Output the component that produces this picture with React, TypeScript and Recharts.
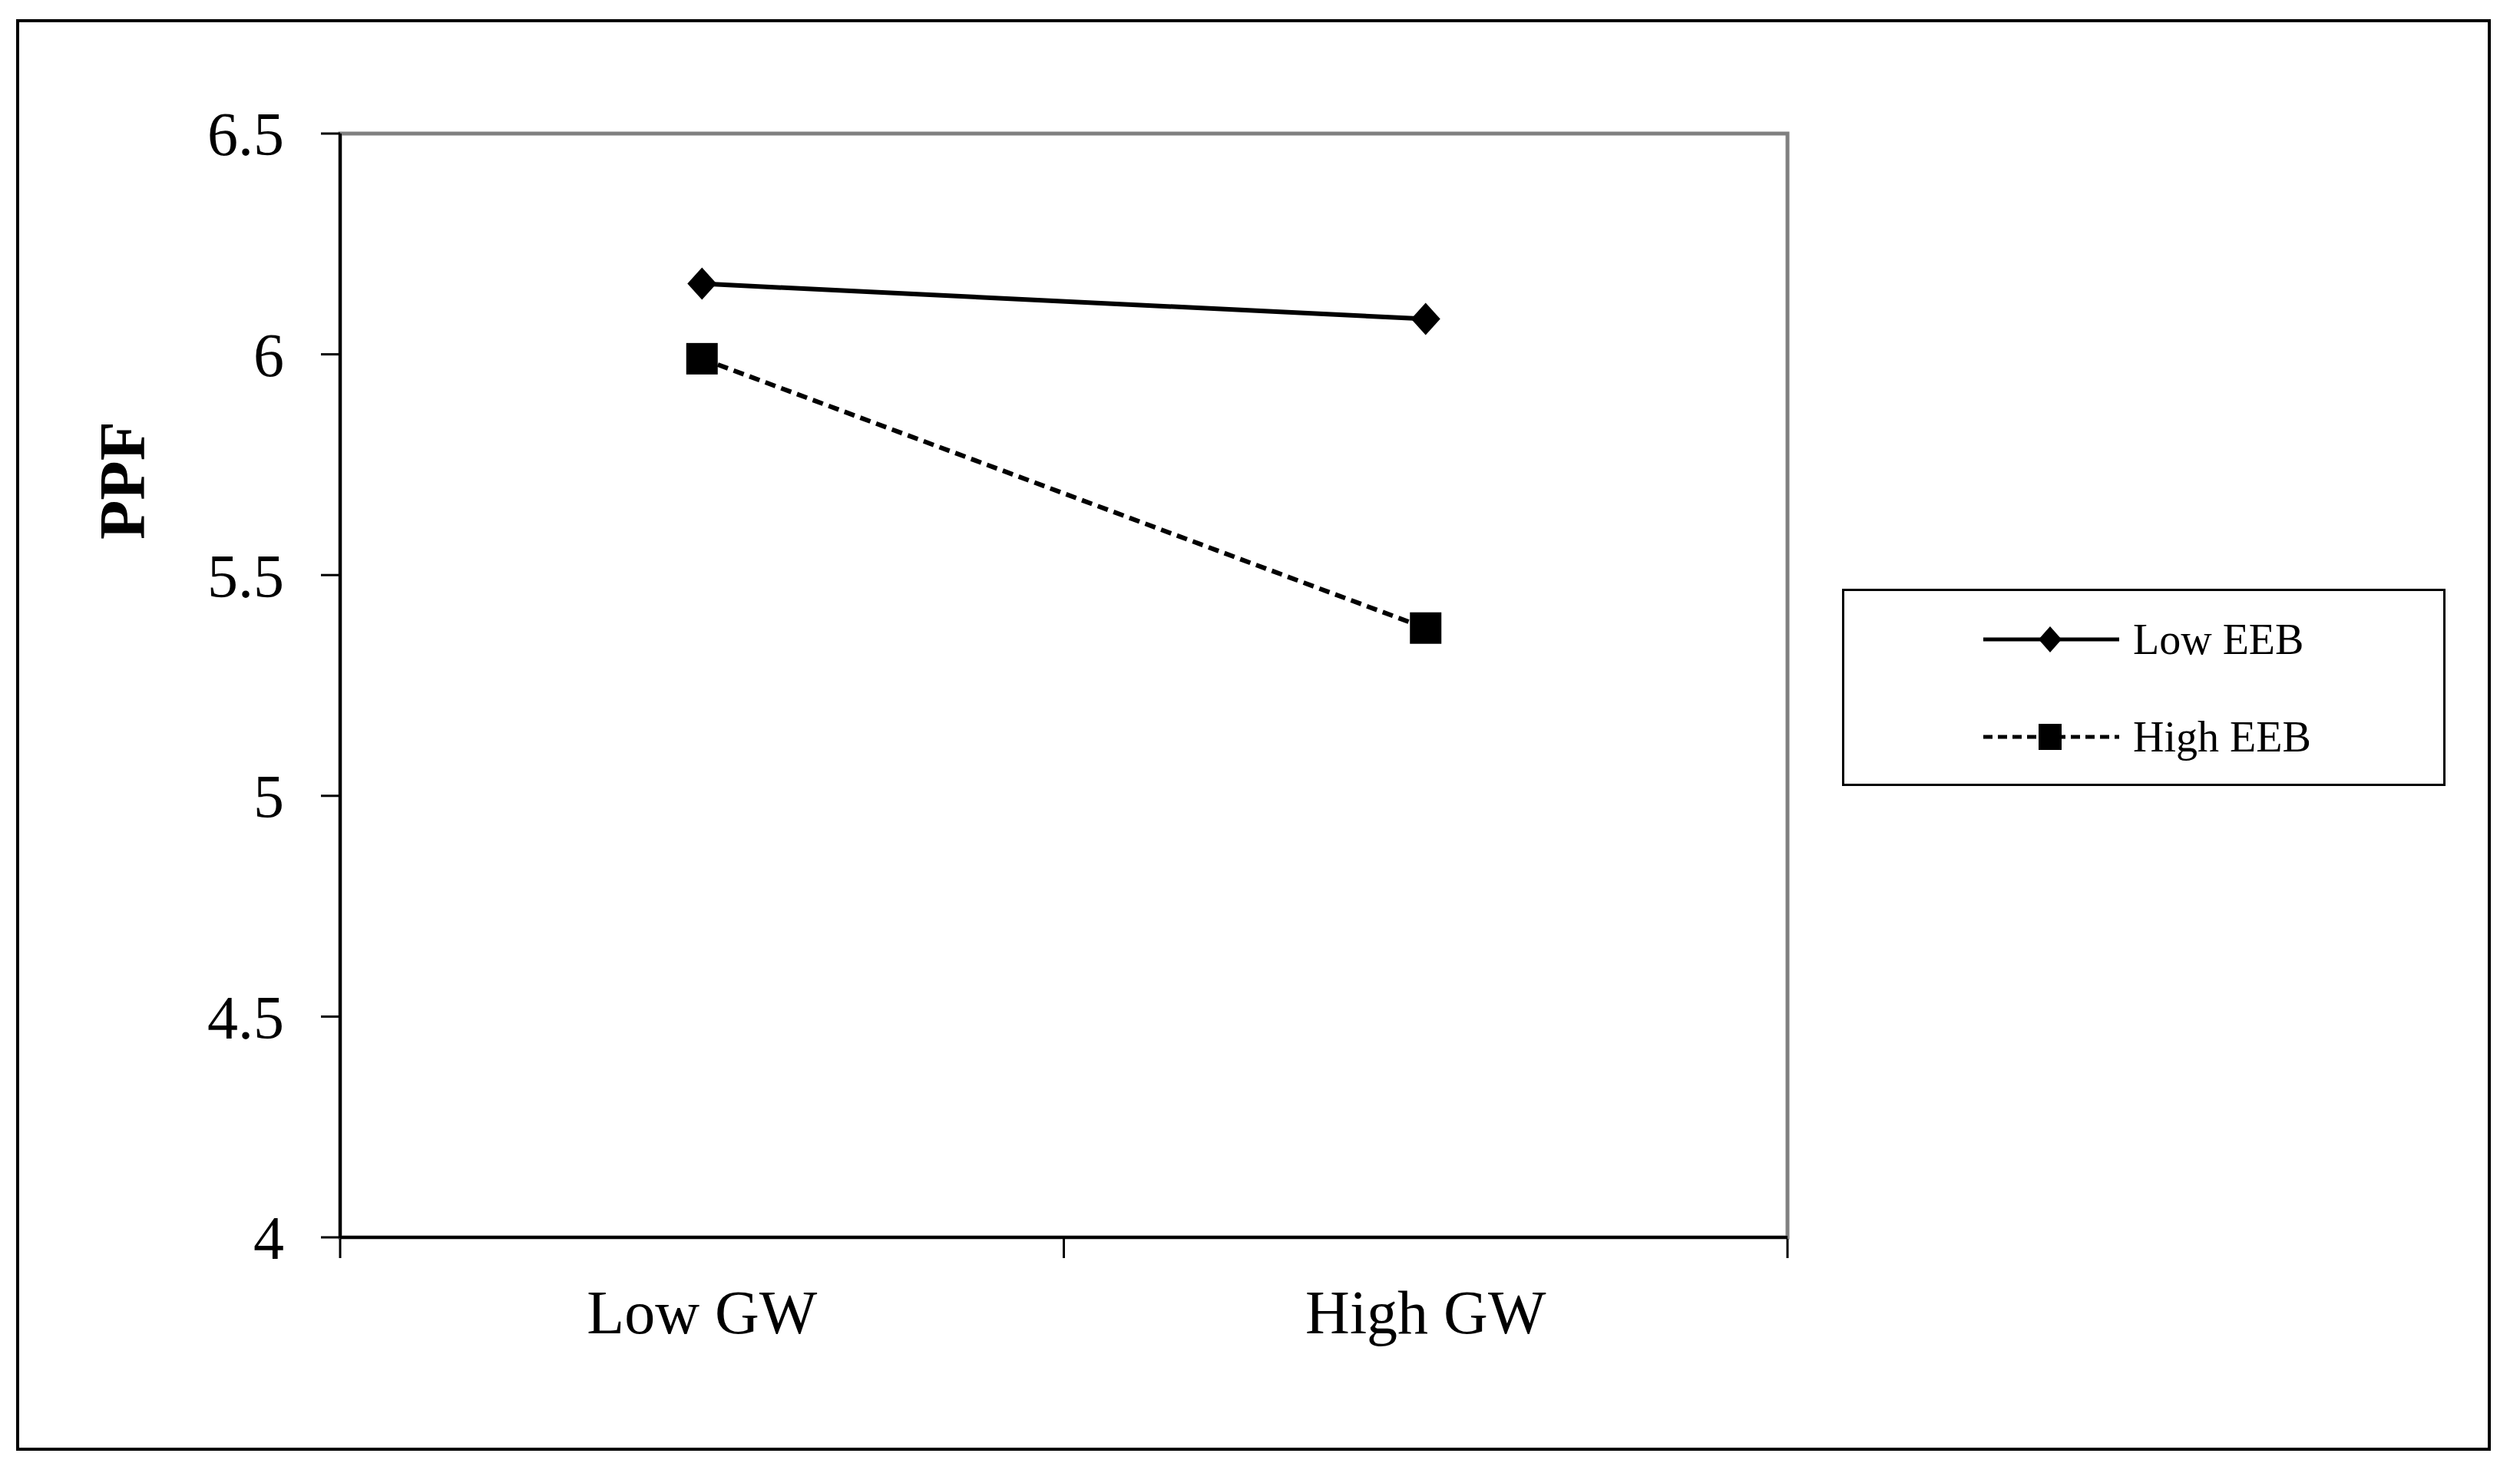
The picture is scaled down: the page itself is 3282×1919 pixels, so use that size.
import { LineChart, Line, XAxis, YAxis, ReferenceArea } from "recharts";

const categories = ["Low GW", "High GW"];
const lowEEB = [6.16, 6.08];
const highEEB = [5.99, 5.38];
const yTicks = [4, 4.5, 5, 5.5, 6, 6.5];
const seriesNames = ["Low EEB", "High EEB"];

const FONT = "'Liberation Serif', 'Times New Roman', serif";

// points sit in the middle of each category band, tick marks on the band edges
const data = categories.map((gw, i) => ({
  gw,
  pos: i + 0.5,
  low: lowEEB[i],
  high: highEEB[i],
}));
const xTicks = [
  ...categories.flatMap((_, i) => [i, i + 0.5]),
  categories.length,
];

function Diamond(props: any) {
  const { cx, cy, index } = props;
  if (cx == null || cy == null) return null;
  return (
    <polygon
      key={`d-${index}`}
      points={`${cx},${cy - 21} ${cx + 19},${cy} ${cx},${cy + 21} ${cx - 19},${cy}`}
      fill="#000"
    />
  );
}

function Square(props: any) {
  const { cx, cy, index } = props;
  if (cx == null || cy == null) return null;
  return <rect key={`s-${index}`} x={cx - 20.5} y={cy - 20.5} width={41} height={41} fill="#000" />;
}

function XTick({ x, y, payload }: any) {
  const v = payload.value;
  if (Number.isInteger(v)) {
    return <line x1={x} y1={y} x2={x} y2={y + 25} stroke="#000" strokeWidth={3} />;
  }
  return (
    <text x={x} y={y + 123} textAnchor="middle" fontSize={80} fontFamily={FONT} fill="#000">
      {categories[Math.floor(v)]}
    </text>
  );
}

function PpfLabel({ viewBox }: any) {
  const cx = viewBox.x - 134;
  const cy = viewBox.y + 452;
  return (
    <text
      x={cx}
      y={cy}
      textAnchor="middle"
      dominantBaseline="central"
      fontSize={84}
      fontWeight="bold"
      fontFamily={FONT}
      fill="#000"
      transform={`rotate(-90, ${cx}, ${cy})`}
    >
      PPF
    </text>
  );
}

function LegendBox() {
  const rows = [
    { name: seriesNames[0], dash: undefined, marker: "diamond" },
    { name: seriesNames[1], dash: "12 7", marker: "square" },
  ];
  return (
    <div
      style={{
        position: "absolute",
        left: 2399,
        top: 767,
        width: 786,
        height: 257,
        border: "3px solid #000",
        boxSizing: "border-box",
        background: "#fff",
      }}
    >
      {rows.map((r, i) => (
        <div
          key={r.name}
          style={{
            position: "absolute",
            left: 181,
            top: 33 + i * 127,
            height: 60,
            display: "flex",
            alignItems: "center",
          }}
        >
          <svg width={177} height={40} style={{ display: "block" }}>
            <line x1={0} y1={20} x2={177} y2={20} stroke="#000" strokeWidth={5} strokeDasharray={r.dash} />
            {r.marker === "diamond" ? (
              <polygon points="87,3 102,20 87,37 72,20" fill="#000" />
            ) : (
              <rect x={72} y={3} width={30} height={34} fill="#000" />
            )}
          </svg>
          <span
            style={{
              marginLeft: 18,
              fontFamily: FONT,
              fontSize: 56,
              color: "#000",
              whiteSpace: "nowrap",
              lineHeight: 1,
            }}
          >
            {r.name}
          </span>
        </div>
      ))}
    </div>
  );
}

export default function App() {
  return (
    <div
      style={{
        position: "absolute",
        left: 0,
        top: 0,
        width: 3282,
        height: 1919,
        background: "#fff",
        overflow: "hidden",
      }}
    >
      <div
        style={{
          position: "absolute",
          left: 21,
          top: 25,
          width: 3223,
          height: 1865,
          border: "4px solid #000",
          boxSizing: "border-box",
        }}
      />
      <div style={{ position: "absolute", left: 0, top: 0 }}>
        <LineChart
          width={3282}
          height={1919}
          data={data}
          margin={{ top: 174, right: 954, bottom: 207, left: 293 }}
        >
          <ReferenceArea y1={4} y2={6.5} stroke="#808080" strokeWidth={5} fill="none" fillOpacity={0} />
          <XAxis
            type="number"
            dataKey="pos"
            domain={[0, categories.length]}
            ticks={xTicks}
            interval={0}
            tick={<XTick />}
            tickLine={false}
            tickSize={0}
            height={100}
            axisLine={{ stroke: "#000", strokeWidth: 4 }}
          />
          <YAxis
            type="number"
            domain={[4, 6.5]}
            ticks={yTicks}
            interval={0}
            width={150}
            tickSize={25}
            tickMargin={48}
            tickLine={{ stroke: "#000", strokeWidth: 3 }}
            axisLine={{ stroke: "#000", strokeWidth: 4 }}
            tick={{ fontSize: 80, fill: "#000", fontFamily: FONT }}
            label={<PpfLabel />}
          />
          <Line
            dataKey="low"
            name={seriesNames[0]}
            stroke="#000"
            strokeWidth={6}
            dot={Diamond}
            activeDot={false}
            isAnimationActive={false}
          />
          <Line
            dataKey="high"
            name={seriesNames[1]}
            stroke="#000"
            strokeWidth={6}
            strokeDasharray="14 8"
            dot={Square}
            activeDot={false}
            isAnimationActive={false}
          />
        </LineChart>
      </div>
      <LegendBox />
    </div>
  );
}
